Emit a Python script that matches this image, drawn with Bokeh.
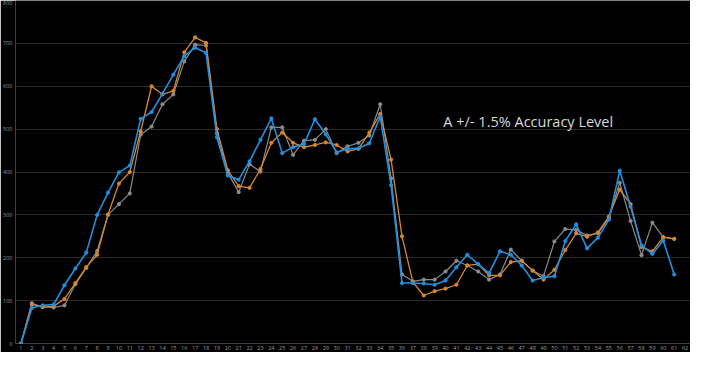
from bokeh.plotting import figure
from bokeh.models import FixedTicker, Label, ColumnDataSource
from bokeh.embed import file_html
from bokeh.resources import INLINE

x_vals = list(range(1, 62))

blue_vals = [0, 83, 89, 91, 136, 175, 212, 300, 352, 399,
             415, 524, 540, 583, 627, 670, 690, 678, 481, 392,
             382, 425, 475, 525, 444, 458, 465, 523, 488, 446,
             454, 455, 467, 529, 369, 141, 141, 140, 137, 147,
             178, 207, 185, 164, 215, 207, 182, 147, 154, 157,
             239, 278, 222, 247, 289, 403, 319, 229, 209, 240, 161]

orange_vals = [0, 91, 85, 87, 104, 141, 178, 207, 301, 373,
               400, 495, 600, 581, 589, 679, 714, 701, 500, 404,
               367, 363, 407, 468, 492, 468, 458, 463, 469, 463,
               448, 454, 492, 535, 429, 250, 143, 112, 122, 128,
               137, 182, 185, 159, 159, 190, 193, 170, 149, 172,
               218, 257, 249, 259, 296, 359, 325, 225, 215, 248, 244]

gray_vals = [0, 94, 85, 84, 89, 138, 176, 216, 300, 325,
             350, 487, 506, 558, 581, 658, 697, 695, 490, 398,
             353, 418, 401, 504, 504, 440, 473, 475, 500, 444,
             460, 468, 485, 558, 385, 161, 145, 149, 149, 168,
             193, 182, 168, 149, 161, 219, 193, 170, 157, 238,
             267, 265, 252, 257, 293, 375, 286, 206, 282, 248, 244]

x_ticks = list(range(1, 63))
y_ticks = [0, 100, 200, 300, 400, 500, 600, 700, 800]
annotation_text = "A +/- 1.5% Accuracy Level"

src = ColumnDataSource(dict(x=x_vals, blue=blue_vals, orange=orange_vals, gray=gray_vals))

p = figure(width=690, height=352, output_backend="svg", toolbar_location=None,
           x_range=(0.5, 62.5), y_range=(0, 800),
           background_fill_color="black", border_fill_color="black",
           min_border_left=4, min_border_right=0, min_border_top=0, min_border_bottom=0)
p.outline_line_color = None

p.xaxis.ticker = FixedTicker(ticks=x_ticks)
p.yaxis.ticker = FixedTicker(ticks=y_ticks)
for ax in (p.xaxis[0], p.yaxis[0]):
    ax.axis_line_color = None
    ax.major_tick_line_color = None
    ax.minor_tick_line_color = None
    ax.major_label_text_color = "#9a9a9a"
    ax.major_label_text_font = "Open Sans"
    ax.major_label_text_font_size = "5.5px"
    ax.major_tick_out = 0
    ax.major_tick_in = 0
p.xaxis.major_label_standoff = 2
p.yaxis.major_label_standoff = 3
p.xgrid.grid_line_color = None
p.ygrid.grid_line_color = "#2b2b2b"
p.ygrid.grid_line_width = 1

series = [("gray", "#8c8c8c", 1.2), ("orange", "#d8862f", 1.3), ("blue", "#2190e0", 1.6)]
for name, col, w in series:
    p.line("x", name, source=src, line_color=col, line_width=w)
    p.scatter("x", name, source=src, size=3.2, fill_color=col, line_color=col)

p.add_layout(Label(x=39.8, y=518, text=annotation_text, text_color="#d9d9d9",
                   text_font="Open Sans", text_font_size="14.5px", text_baseline="middle"))

open("out.html", "w").write(file_html(p, INLINE))
